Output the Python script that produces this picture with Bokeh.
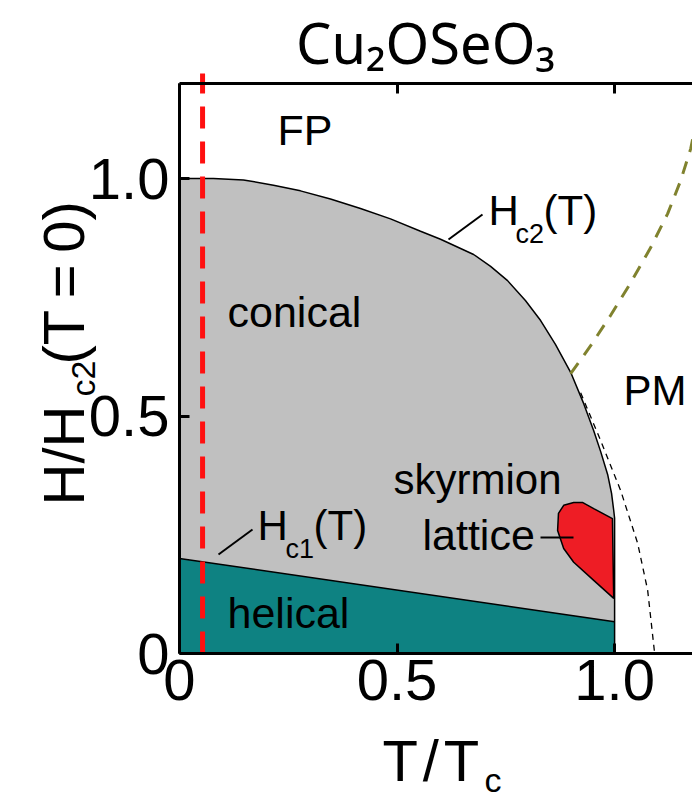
import math
from bokeh.plotting import figure
from bokeh.models import Label, LinearAxis, FixedTicker, Range1d
from bokeh.embed import file_html
from bokeh.resources import INLINE

# ---------------- data ----------------
hc2_T = [0.0, 0.078, 0.147, 0.216, 0.278, 0.347, 0.416, 0.485, 0.554, 0.600, 0.676, 0.715,
         0.754, 0.795, 0.830, 0.864, 0.899, 0.929, 0.952, 0.968, 0.984, 0.993, 0.998, 1.0]
hc2_H = [1.0, 1.0, 0.997, 0.986, 0.974, 0.957, 0.937, 0.915, 0.889, 0.872, 0.840, 0.815,
         0.785, 0.743, 0.701, 0.651, 0.592, 0.526, 0.469, 0.425, 0.377, 0.337, 0.301, 0.285]

hc1_T = [0.0, 1.0]
hc1_H = [0.200, 0.067]

sky_T = [0.871, 0.883, 0.906, 0.926, 0.952, 0.995, 0.998, 0.952, 0.906, 0.883, 0.869]
sky_H = [0.295, 0.312, 0.318, 0.318, 0.305, 0.284, 0.116, 0.154, 0.192, 0.221, 0.259]

pm_T = [0.922, 0.968, 1.014, 1.053, 1.076, 1.090, 1.092]
pm_H = [0.549, 0.448, 0.343, 0.232, 0.133, 0.017, 0.0]

olive_T = [0.899, 0.945, 0.991, 1.036, 1.082, 1.122, 1.152, 1.175, 1.181]
olive_H = [0.589, 0.648, 0.712, 0.779, 0.853, 0.926, 0.996, 1.063, 1.090]

red_T = 0.053
red_H = [0.0, 1.221]

x_ticks = [0, 0.5, 1.0]
x_tick_labels = ["0", "0.5", "1.0"]
y_ticks = [0, 0.5, 1.0]
y_tick_labels = ["0", "0.5", "1.0"]

# ---------------- layout helpers ----------------
W, H = 692, 799
FL, FT, FB = 179, 83, 653       # page pixels of the axes frame
SX = 435.1                      # pixels per unit of T/Tc
SY = 475.0                      # pixels per unit of H/Hc2
X_END = (W - FL) / SX
Y_END = (FB - FT) / SY


def d(px, py):
    return (px - FL) / SX, (FB - py) / SY


p = figure(width=W, height=H, output_backend="svg", toolbar_location=None,
           x_range=Range1d(-FL / SX, X_END), y_range=Range1d((FB - H) / SY, FB / SY),
           x_axis_location=None, y_axis_location=None,
           min_border_left=0, min_border_right=0, min_border_top=0, min_border_bottom=0)
p.outline_line_color = None
p.xgrid.visible = False
p.ygrid.visible = False
p.background_fill_color = "white"
p.border_fill_color = "white"

GREY = "#c0c0c0"
TEAL = "#0e8282"
SKRED = "#ee1d25"

# conical (grey) region
grey_x = hc2_T + [hc1_T[1], hc1_T[0]]
grey_y = hc2_H + [hc1_H[1], hc1_H[0]]
p.patch(grey_x, grey_y, fill_color=GREY, line_color=None)

# helical (teal) region
teal_x = [hc1_T[0], hc1_T[0], hc1_T[1], hc1_T[1]]
teal_y = [0, hc1_H[0], hc1_H[1], 0]
p.patch(teal_x, teal_y, fill_color=TEAL, line_color=None)

# boundaries
p.line(hc1_T, hc1_H, line_color="black", line_width=1.5)
p.line(hc2_T + [1.0], hc2_H + [0.0], line_color="black", line_width=1.5)

# skyrmion lattice pocket
p.patch(sky_T, sky_H, fill_color=SKRED, line_color="black", line_width=1.5)

# dashed lines
p.line(pm_T, pm_H, line_color="black", line_width=1.3, line_dash="6 5")
p.line(olive_T, olive_H, line_color="#80822e", line_width=3, line_dash="13 10")
p.line([red_T, red_T], red_H, line_color="#ff1010", line_width=5, line_dash="22 13")

# leader lines
for (a, b) in [((448, 239), (482, 214)), ((218, 554), (252, 529)), ((540, 537), (573, 537))]:
    x0, y0 = d(*a)
    x1, y1 = d(*b)
    p.line([x0, x1], [y0, y1], line_color="black", line_width=2)


# ---------------- axes (drawn at fixed data locations) ----------------
def style_axis(ax):
    ax.axis_line_width = 3
    ax.axis_line_color = "black"
    ax.major_tick_line_width = 3
    ax.major_tick_line_color = "black"
    ax.major_tick_in = 10
    ax.major_tick_out = 0
    ax.minor_tick_line_color = None
    ax.major_label_text_font = "Liberation Sans"
    ax.major_label_text_color = "black"
    ax.major_label_text_font_size = "58px"


xb = LinearAxis(ticker=FixedTicker(ticks=x_ticks), fixed_location=0, bounds=(0, X_END),
                major_label_overrides={t: s for t, s in zip(x_ticks, x_tick_labels)})
style_axis(xb)
xb.major_label_standoff = 6
p.add_layout(xb, "below")

yl = LinearAxis(ticker=FixedTicker(ticks=y_ticks), fixed_location=0, bounds=(0, Y_END),
                major_label_overrides={t: s for t, s in zip(y_ticks, y_tick_labels)})
style_axis(yl)
yl.major_label_standoff = 10
p.add_layout(yl, "left")

xt = LinearAxis(ticker=FixedTicker(ticks=x_ticks), fixed_location=Y_END, bounds=(0, X_END),
                major_label_overrides={t: "" for t in x_ticks})
style_axis(xt)
p.add_layout(xt, "above")

# ---------------- text ----------------
ARIAL = "Liberation Sans"


def lab(text, px, py, size, font=ARIAL, angle=0.0, align="left", k=0.35):
    # py is the wanted baseline; Bokeh anchors such labels about 0.35 em above it
    if angle == 0.0:
        py = py - k * size
    x, y = d(px, py)
    p.add_layout(Label(x=x, y=y, text=text, text_font=font, text_font_size=f"{size}px",
                       text_color="black", text_align=align, text_baseline="alphabetic",
                       angle=angle))


# title
lab("Cu\u2082OSeO\u2083", 425, 63, 56, "Noto Sans", align="center", k=0.39)

# x axis label
lab("T\u200a/\u200aT", 382, 780, 58)
lab("c", 484, 791, 34)

# y axis label (rotated)
R = math.pi / 2
lab("H/H", 63, 505, 58, angle=R)
lab("c2", 82, 396, 34, angle=R)
lab("(T\u2009=\u20090)", 63, 364, 58, angle=R)

# region labels
lab("FP", 277, 145, 43)
lab("conical", 227, 327, 43)
lab("helical", 227, 628, 43)
lab("skyrmion", 393, 494, 42)
lab("lattice", 422, 550, 43)
lab("PM", 623, 405, 42)

lab("H", 488, 225, 42)
lab("c2", 515, 243, 27)
lab("(T)", 543, 225, 42)

lab("H", 257, 540, 42)
lab("c1", 285, 558, 27)
lab("(T)", 313, 540, 42)

open("out.html", "w").write(file_html(p, INLINE))
